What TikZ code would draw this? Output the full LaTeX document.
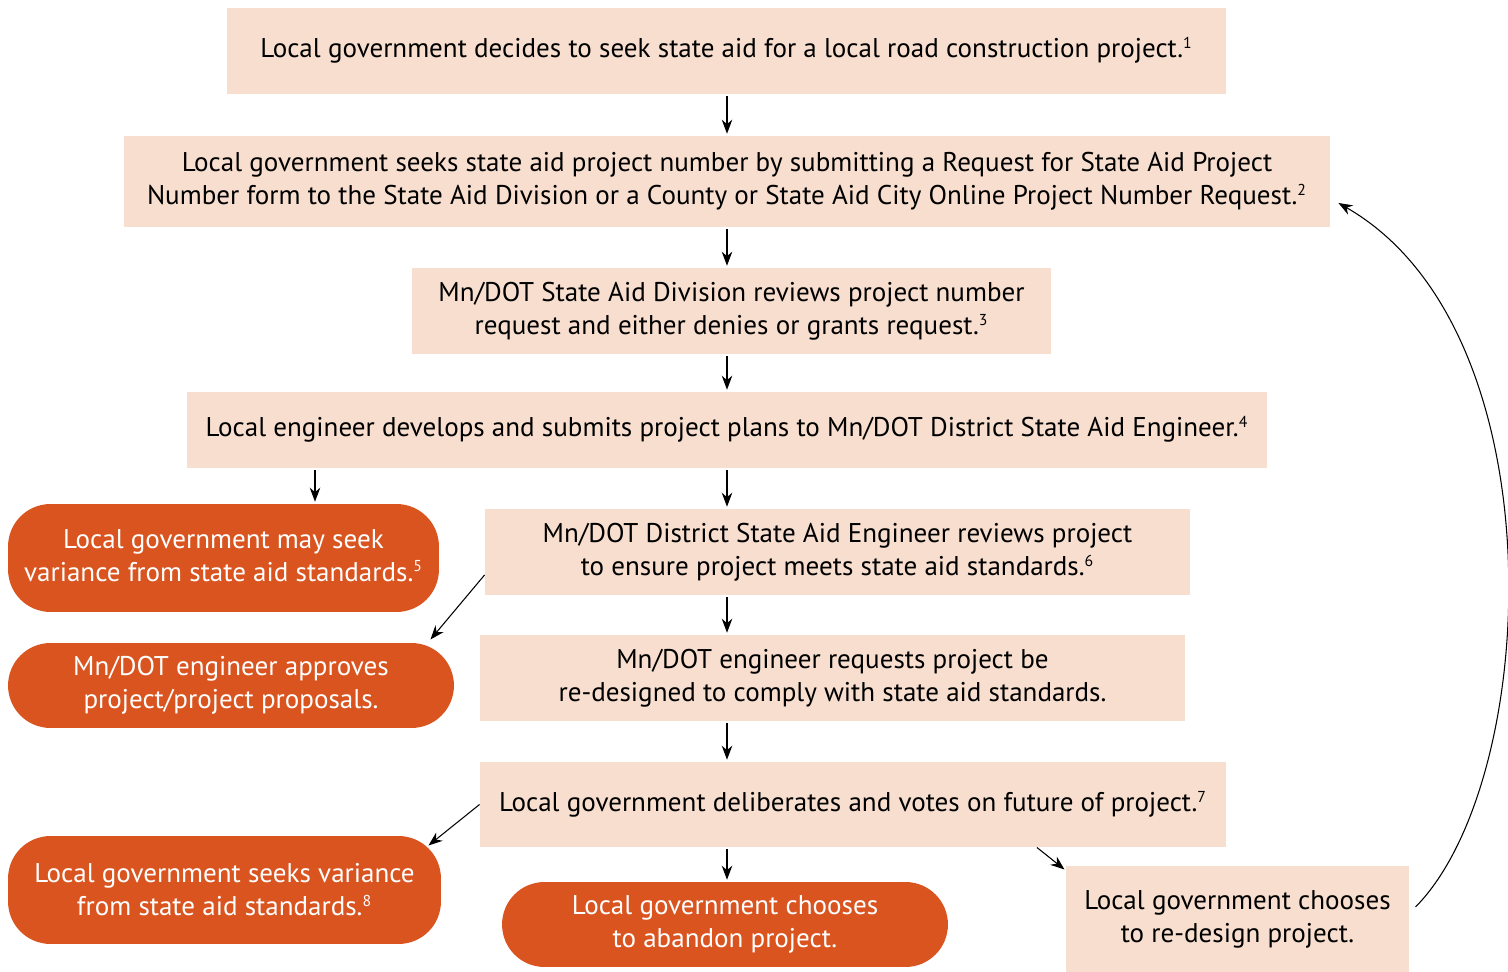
\documentclass[tikz,border=0pt]{standalone}
\usepackage{fontspec}
\setmainfont{PT Sans}
\usetikzlibrary{arrows.meta}
\definecolor{peach}{HTML}{F7DECE}
\definecolor{rust}{HTML}{D9541F}
\newcommand{\fnote}[1]{\smash{\textsuperscript{\fontsize{9}{9}\selectfont #1}}}

\begin{document}
\begin{tikzpicture}
  [x=0.02cm,y=-0.02cm,>={Stealth[length=8pt,width=6pt]},line width=0.6pt,
   every node/.style={align=center,inner sep=0pt,font=\fontsize{15.4}{18.8}\selectfont},
   stepbox/.style={rectangle,fill=peach},
   exitbox/.style={rectangle,rounded corners=0.85cm,fill=rust,text=white}]
  \useasboundingbox (0,0) rectangle (1508,972);
  \node[stepbox,minimum width=19.98cm,minimum height=1.72cm] (n1) at (726.5,51)
    {Local government decides to seek state aid for a local road construction project.\fnote{1}};
  \node[stepbox,minimum width=24.12cm,minimum height=1.82cm] (n2) at (727,181.5)
    {Local government seeks state aid project number by submitting a Request for State Aid Project\\
     Number form to the State Aid Division or a County or State Aid City Online Project Number Request.\fnote{2}};
  \node[stepbox,minimum width=12.78cm,minimum height=1.72cm] (n3) at (731.5,311)
    {Mn/DOT State Aid Division reviews project number\\request and either denies or grants request.\fnote{3}};
  \node[stepbox,minimum width=21.6cm,minimum height=1.52cm] (n4) at (727,430)
    {Local engineer develops and submits project plans to Mn/DOT District State Aid Engineer.\fnote{4}};
  \node[exitbox,minimum width=8.62cm,minimum height=2.16cm] (n5) at (223.5,558)
    {\raisebox{0.13cm}{\begin{tabular}{@{}c@{}}Local government may seek\\variance from state aid standards.\fnote{5}\end{tabular}}};
  \node[stepbox,minimum width=14.1cm,minimum height=1.72cm] (n6) at (837.5,552)
    {Mn/DOT District State Aid Engineer reviews project\\to ensure project meets state aid standards.\fnote{6}};
  \node[exitbox,minimum width=8.92cm,minimum height=1.7cm] (n7) at (231,685.5)
    {Mn/DOT engineer approves\\project/project proposals.};
  \node[stepbox,minimum width=14.1cm,minimum height=1.72cm] (n8) at (832.5,678)
    {Mn/DOT engineer requests project be\\re-designed to comply with state aid standards.};
  \node[stepbox,minimum width=14.92cm,minimum height=1.7cm] (n9) at (853,804.5)
    {Local government deliberates and votes on future of project.\fnote{7}};
  \node[exitbox,minimum width=8.66cm,minimum height=2.16cm] (n10) at (224.5,890)
    {Local government seeks variance\\from state aid standards.\fnote{8}};
  \node[exitbox,minimum width=8.92cm,minimum height=1.7cm] (n11) at (725,924.5)
    {Local government chooses\\to abandon project.};
  \node[stepbox,minimum width=6.86cm,minimum height=2.12cm] (n12) at (1237.5,919)
    {Local government chooses\\to re-design project.};

  \coordinate (mid) at (727,0);
  \coordinate (side) at (315,0);
  \foreach \from/\to in {n1/n2,n2/n3,n3/n4,n4/n6,n6/n8,n8/n9,n9/n11}
    \draw[->,shorten <=1pt,shorten >=1pt] (\from.south -| mid) -- (\to.north -| mid);
  \draw[->,shorten <=1pt,shorten >=1pt] (n4.south -| side) -- (n5.north -| side);
  \draw[->] ([yshift=-0.46cm]n6.west) -- ([xshift=-0.48cm,yshift=0.06cm]n7.north east);
  \draw[->] (n9.west) -- ([xshift=-0.26cm,yshift=-0.2cm]n10.north east);
  \draw[->] ([xshift=3.68cm]n9.south) -- ([xshift=-0.02cm,yshift=-0.08cm]n12.north west);
  \draw[->] ([xshift=0.12cm,yshift=0.24cm]n12.east) .. controls (1541,780) and (1560,330) .. ([xshift=0.16cm,yshift=-0.43cm]n2.east);
\end{tikzpicture}
\end{document}
